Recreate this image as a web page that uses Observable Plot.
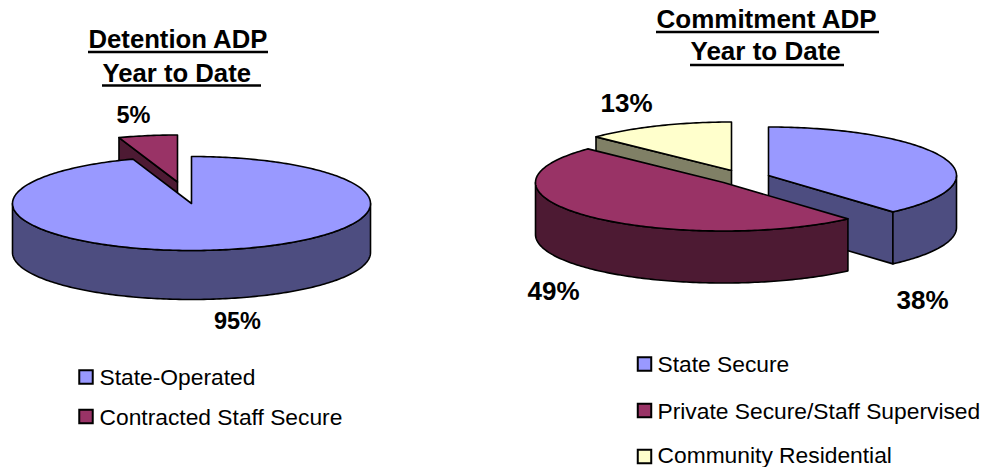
<!DOCTYPE html>
<html>
<head>
<meta charset="utf-8">
<style>html,body{margin:0;padding:0;background:#fff}svg{display:block}</style>
<script src="https://cdn.jsdelivr.net/npm/d3@7"></script>
<script src="https://cdn.jsdelivr.net/npm/@observablehq/plot@0.6"></script>
</head>
<body>
<div id="chart"></div>
<script>
// Data
const detentionTitle = ["Detention ADP", "Year to Date"];
const detentionCategories = ["State-Operated", "Contracted Staff Secure"];
const detentionValues = [94.7, 5.3];
const detentionLabels = ["95%", "5%"];

const commitmentTitle = ["Commitment ADP", "Year to Date"];
const commitmentCategories = ["State Secure", "Private Secure/Staff Supervised", "Community Residential"];
const commitmentValues = [38.49, 48.7, 12.81];
const commitmentLabels = ["38%", "49%", "13%"];

// Styles
const topColors = ["#9999FF", "#993366", "#FFFFCC"];
const wallColors = ["#4D4D80", "#4D1A33", "#808066"];
const detentionColorIndex = [0, 1];
const commitmentColorIndex = [0, 1, 2];

// Layout of each pie (not data)
const pies = [
  {
    values: detentionValues, labels: detentionLabels, categories: detentionCategories, colors: detentionColorIndex,
    rx: 179, ry: 47, depth: 49,
    centers: [[191, 203], [177, 181.5]],
    order: [1, 0],
    labelAt: [[237, 328], [133, 122]], labelSize: 23.5,
    legendX: 85.5, legendTextX: 99, legendY: [376.5, 416], legendBase: [384, 424],
    title: [
      {x: 88, base: 47, x2: 268, under: 51.5},
      {x: 102, base: 81, x2: 261, under: 85}
    ],
    titleSize: 25.7, titleText: detentionTitle
  },
  {
    values: commitmentValues, labels: commitmentLabels, categories: commitmentCategories, colors: commitmentColorIndex,
    rx: 188, ry: 48.5, depth: 52,
    centers: [[768, 175], [723, 182], [731, 170]],
    order: [2, 0, 1],
    labelAt: [[922, 308], [553, 299], [626, 111]], labelSize: 26,
    legendX: 644, legendTextX: 657, legendY: [363.5, 410, 456], legendBase: [371, 418, 462],
    title: [
      {x: 656, base: 27, x2: 879, under: 31.5},
      {x: 690, base: 59, x2: 844, under: 64.5}
    ],
    titleSize: 26, titleText: commitmentTitle
  }
];

const font = "Liberation Sans, Arial, sans-serif";
const rad = Math.PI / 180;

function rim(pie, i, deg) {
  const [cx, cy] = pie.centers[i];
  return {x: cx + pie.rx * Math.sin(deg * rad), y: cy - pie.ry * Math.cos(deg * rad)};
}
function arc(pie, i, a, b) {
  const n = Math.max(1, Math.ceil(Math.abs(b - a)));
  return d3.range(n + 1).map(k => rim(pie, i, a + (b - a) * k / n));
}
function lift(points, drop) { return points.map(p => ({x: p.x, y: p.y + drop})); }
function polygon(points, fill) {
  return Plot.line([...points, points[0]], {x: "x", y: "y", fill, stroke: "#000", strokeWidth: 1.6, strokeLinejoin: "round", curve: "linear"});
}

const marks = [];
for (const pie of pies) {
  const total = d3.sum(pie.values);
  const edges = [0, ...d3.cumsum(pie.values).map(v => v / total * 360)];
  for (const i of pie.order) {
    const a = edges[i], b = edges[i + 1];
    const c = pie.colors[i];
    const apex = {x: pie.centers[i][0], y: pie.centers[i][1]};
    // radial walls facing the viewer
    if (a > 180 && a < 360) {
      const tip = rim(pie, i, a);
      marks.push(polygon([apex, tip, ...lift([tip, apex], pie.depth)], wallColors[c]));
    }
    if (b > 0 && b < 180) {
      const tip = rim(pie, i, b);
      marks.push(polygon([apex, tip, ...lift([tip, apex], pie.depth)], wallColors[c]));
    }
    // outer wall on the near half of the rim
    const wa = Math.max(a, 90), wb = Math.min(b, 270);
    if (wb > wa) {
      const top = arc(pie, i, wa, wb);
      marks.push(polygon([...top, ...lift(top, pie.depth).reverse()], wallColors[c]));
    }
    // top face
    marks.push(polygon([apex, ...arc(pie, i, a, b)], topColors[c]));
  }
  // percentage labels
  marks.push(Plot.text(pie.labels.map((t, i) => ({t, x: pie.labelAt[i][0], y: pie.labelAt[i][1]})), {
    x: "x", y: "y", text: "t", lineAnchor: "bottom", textAnchor: "middle",
    fontFamily: font, fontWeight: "bold", fontSize: pie.labelSize, fill: "#000"
  }));
  // titles with underline
  const titles = pie.title.map((d, i) => ({...d, t: pie.titleText[i]}));
  marks.push(Plot.text(titles, {
    x: "x", y: "base", text: "t", lineAnchor: "bottom", textAnchor: "start",
    fontFamily: font, fontWeight: "bold", fontSize: pie.titleSize, fill: "#000"
  }));
  marks.push(Plot.ruleY(titles, {y: "under", x1: "x", x2: "x2", stroke: "#000", strokeWidth: 2.5}));
  // legend
  const legend = pie.categories.map((t, i) => ({t, c: topColors[pie.colors[i]], y: pie.legendY[i], base: pie.legendBase[i]}));
  for (const d of legend) {
    marks.push(Plot.dot([d], {x: () => pie.legendX, y: "y", symbol: "square", r: 7.6, fill: d.c, stroke: "#000", strokeWidth: 2}));
  }
  marks.push(Plot.text(legend, {
    x: () => pie.legendTextX, y: "base", text: "t", lineAnchor: "bottom", textAnchor: "start",
    fontFamily: font, fontSize: 22.8, fill: "#000"
  }));
}

const chart = Plot.plot({
  width: 986, height: 467, margin: 0,
  x: {domain: [0, 986], axis: null},
  y: {domain: [467, 0], axis: null},
  style: {background: "#fff", fontFamily: font},
  marks
});
document.getElementById("chart").appendChild(chart);
</script>
</body>
</html>
